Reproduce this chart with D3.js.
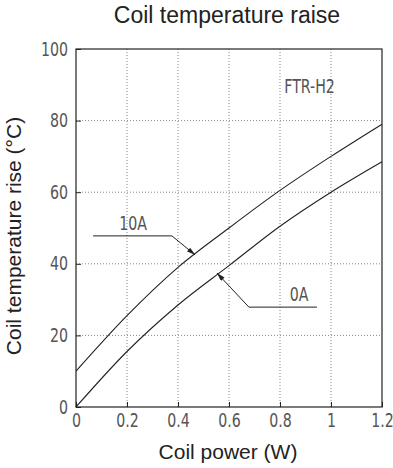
<!DOCTYPE html>
<html>
<head>
<meta charset="utf-8">
<script src="https://cdn.jsdelivr.net/npm/d3@7"></script>
<style>
  body { margin: 0; background: #fff; }
  .narrow { font-family: "DejaVu Sans Condensed", sans-serif; font-size: 19px; fill: #555;
            transform-box: fill-box; transform-origin: center; transform: scaleX(0.83); }
</style>
</head>
<body>
<svg id="svg" width="393" height="468"></svg>
<script>
// coil power (W) and temperature rise for each current
var power = [0, 0.2, 0.4, 0.6, 0.8, 1.0, 1.2];
var rise0A = [0, 15.5, 28.5, 39.5, 50.5, 60, 68.5];
var rise10A = [10, 25.5, 39, 50, 60.5, 70, 79];
var xTicks = [0, 0.2, 0.4, 0.6, 0.8, 1, 1.2];
var yTicks = [0, 20, 40, 60, 80, 100];

var svg = d3.select("#svg");
var padL = 76, padR = 382, padT = 49, padB = 407;

var x = d3.scaleLinear().domain([0, 1.2]).range([padL, padR]);
var y = d3.scaleLinear().domain([0, 100]).range([padB, padT]);

// grid
svg.append("g").selectAll("line").data(xTicks.slice(1, -1)).enter().append("line")
  .attr("x1", d => x(d)).attr("x2", d => x(d)).attr("y1", padT).attr("y2", padB)
  .attr("stroke", "#888").attr("stroke-dasharray", "1,2");
svg.append("g").selectAll("line").data(yTicks.slice(1, -1)).enter().append("line")
  .attr("x1", padL).attr("x2", padR).attr("y1", d => y(d)).attr("y2", d => y(d))
  .attr("stroke", "#888").attr("stroke-dasharray", "1,2");

// axes
var xAxis = svg.append("g").attr("transform", "translate(0," + padB + ")")
  .call(d3.axisBottom(x).tickValues(xTicks).tickFormat(d3.format("")).tickSizeInner(-5).tickSizeOuter(0).tickPadding(7));
var yAxis = svg.append("g").attr("transform", "translate(" + padL + ",0)")
  .call(d3.axisLeft(y).tickValues(yTicks).tickSizeInner(-5).tickSizeOuter(0).tickPadding(8));
xAxis.select(".domain").remove();
yAxis.select(".domain").remove();
svg.selectAll(".tick line").attr("stroke", "#222");
svg.selectAll(".tick text").attr("class", "narrow").attr("font-family", null).attr("font-size", null).attr("fill", null);
yAxis.selectAll(".tick text").style("transform-origin", "right center");

svg.append("rect").attr("x", padL).attr("y", padT)
  .attr("width", padR - padL).attr("height", padB - padT)
  .attr("fill", "none").attr("stroke", "#222").attr("stroke-width", 1.2);

// curves
var line = d3.line().x(d => x(d[0])).y(d => y(d[1])).curve(d3.curveMonotoneX);
[rise0A, rise10A].forEach(function(s) {
  svg.append("path").datum(power.map((p, i) => [p, s[i]]))
    .attr("d", line).attr("fill", "none").attr("stroke", "#222").attr("stroke-width", 1.1);
});

// annotation arrows
svg.append("defs").append("marker").attr("id", "arr")
  .attr("viewBox", "0 0 10 6").attr("refX", 10).attr("refY", 3)
  .attr("markerWidth", 10).attr("markerHeight", 5).attr("markerUnits", "userSpaceOnUse")
  .attr("orient", "auto")
  .append("path").attr("d", "M0,0 L10,3 L0,6 Z").attr("fill", "#222");

var lead = d3.line().x(d => x(d[0])).y(d => y(d[1]));
svg.append("path").datum([[0.067, 47.8], [0.376, 47.8], [0.467, 42.5]])
  .attr("d", lead).attr("fill", "none").attr("stroke", "#222").attr("marker-end", "url(#arr)");
svg.append("path").datum([[0.945, 27.9], [0.678, 27.9], [0.553, 37.4]])
  .attr("d", lead).attr("fill", "none").attr("stroke", "#222").attr("marker-end", "url(#arr)");

svg.append("text").attr("class", "narrow").attr("x", x(0.224)).attr("y", y(49.5))
  .attr("text-anchor", "middle").text("10A");
svg.append("text").attr("class", "narrow").attr("x", x(0.875)).attr("y", y(29.5))
  .attr("text-anchor", "middle").text("0A");
svg.append("text").attr("class", "narrow").attr("x", x(0.916)).attr("y", y(87.7))
  .attr("text-anchor", "middle").text("FTR-H2");

// titles
var sans = "Liberation Sans, Arial, sans-serif";
svg.append("text").attr("x", 227).attr("y", 23).attr("text-anchor", "middle")
  .attr("font-family", sans).attr("font-size", 23).attr("fill", "#222")
  .text("Coil temperature raise");
svg.append("text").attr("x", 228).attr("y", 459).attr("text-anchor", "middle")
  .attr("font-family", sans).attr("font-size", 21).attr("fill", "#222")
  .text("Coil power (W)");
svg.append("text").attr("transform", "translate(21,236) rotate(-90)").attr("text-anchor", "middle")
  .attr("font-family", sans).attr("font-size", 21).attr("fill", "#222")
  .text("Coil temperature rise (°C)");
</script>
</body>
</html>
